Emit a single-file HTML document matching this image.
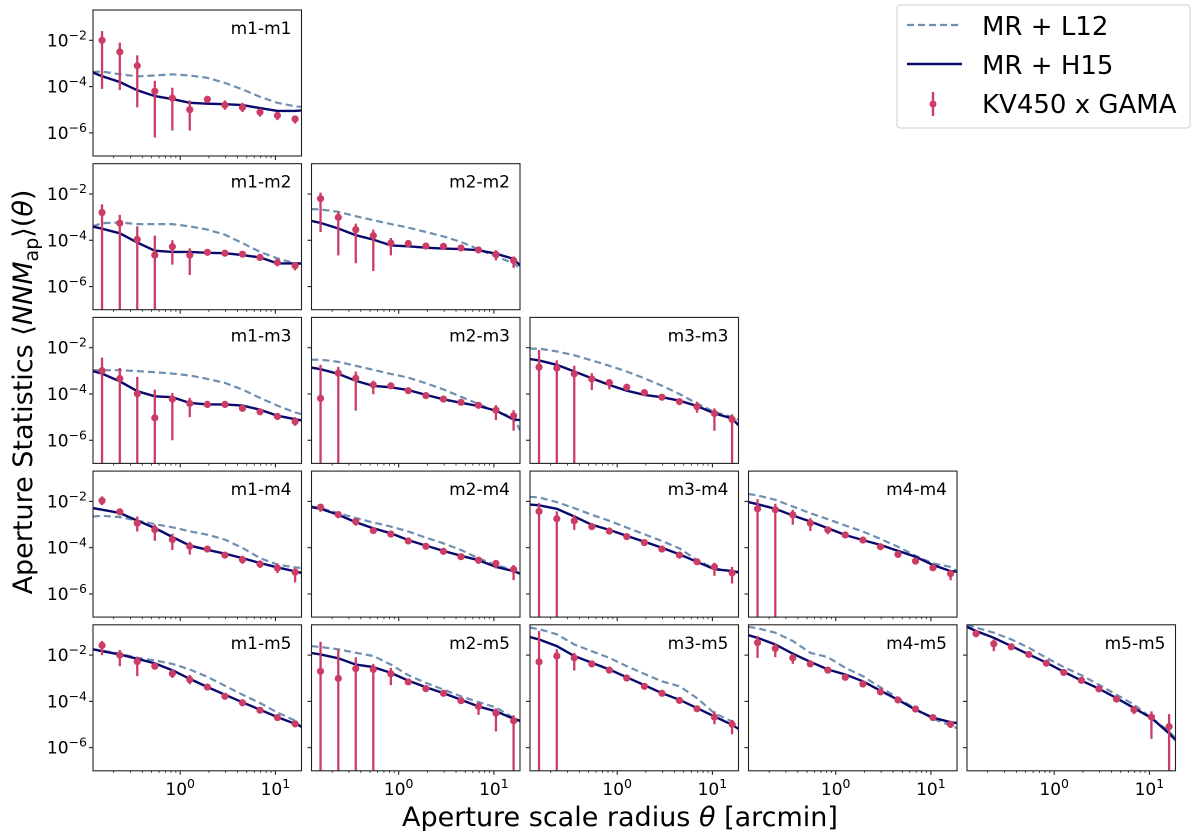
<!DOCTYPE html>
<html><head><meta charset="utf-8"><style>
html,body{margin:0;padding:0;background:#fff;}
svg{display:block;font-family:"DejaVu Sans","Liberation Sans",sans-serif;}
</style></head><body>
<svg id="chart" width="1200" height="831" viewBox="0 0 1200 831" xmlns="http://www.w3.org/2000/svg">
<g id="panels"></g>
<text x="620" y="826" font-size="27" text-anchor="middle" fill="#000">Aperture scale radius <tspan font-style="italic">θ</tspan> [arcmin]</text>
<text transform="translate(32,392) rotate(-90)" font-size="27" text-anchor="middle" fill="#000">Aperture Statistics ⟨<tspan font-style="italic">NNM</tspan><tspan font-size="19" dy="6">ap</tspan><tspan dy="-6">⟩(</tspan><tspan font-style="italic">θ</tspan>)</text>
<g>
<rect x="897" y="5" width="293" height="123" rx="3" fill="#fff" stroke="#ccc" stroke-width="1"/>
<line x1="907" y1="25" x2="960" y2="25" stroke="#6f8fb0" stroke-width="2.2" stroke-dasharray="7,4"/>
<text x="982" y="35" font-size="26">MR + L12</text>
<line x1="907" y1="64" x2="962" y2="64" stroke="#0a0a6e" stroke-width="2.4"/>
<text x="982" y="74" font-size="26">MR + H15</text>
<line x1="933" y1="92" x2="933" y2="116" stroke="#cc3d66" stroke-width="2.4"/>
<circle cx="933" cy="104" r="3.5" fill="#cc3d66"/>
<text x="982" y="113" font-size="26">KV450 x GAMA</text>
</g>
</svg>
<script>
// theta grid (arcmin) for data points and model curve sample points
const thetaPts = [0.151,0.232,0.354,0.541,0.827,1.26,1.93,2.95,4.51,6.89,10.5,16.1];
const thetaModel = [0.121,0.151,0.232,0.354,0.541,0.827,1.26,1.93,2.95,4.51,6.89,10.5,16.1,18.8];
const xTickVals = [1,10];
const xTickLabels = ["0","1"];
const yTickVals = [-2,-4,-6];
const yTickLabels = ["−2","−4","−6"];
const panelNames = ["m1-m1","m1-m2","m1-m3","m1-m4","m1-m5","m2-m2","m2-m3","m2-m4","m2-m5","m3-m3","m3-m4","m3-m5","m4-m4","m4-m5","m5-m5"];
const panelRows = [0,1,2,3,4,1,2,3,4,2,3,4,3,4,4];
const panelCols = [0,0,0,0,0,1,1,1,1,2,2,2,3,3,4];
// log10 values of measurements, error bar tops/bottoms, and models
const pts_m1m1=[-2.0,-2.5,-3.1,-4.2,-4.5,-5.0,-4.55,-4.8,-4.9,-5.1,-5.25,-5.4];
const hi_m1m1=[-1.6,-2.1,-2.65,-3.75,-4.05,-4.6,-4.4,-4.6,-4.7,-4.95,-5.1,-5.25];
const lo_m1m1=[-4.1,-4.15,-4.9,-6.2,-5.9,-5.9,-4.7,-5.0,-5.1,-5.3,-5.45,-5.6];
const h15_m1m1=[-3.39,-3.55,-3.8,-4.16,-4.41,-4.54,-4.7,-4.74,-4.76,-4.8,-4.93,-5.05,-5.05,-5.03];
const l12_m1m1=[-3.37,-3.35,-3.47,-3.56,-3.52,-3.47,-3.52,-3.62,-3.84,-4.12,-4.44,-4.7,-4.85,-4.88];
const pts_m1m2=[-2.8,-3.26,-3.96,-4.64,-4.28,-4.64,-4.52,-4.56,-4.6,-4.74,-4.96,-5.1];
const hi_m1m2=[-2.45,-2.9,-3.4,-3.8,-4.0,-4.35,-4.4,-4.45,-4.5,-4.62,-4.82,-4.95];
const lo_m1m2=[-8,-8,-8,-8,-5.05,-5.5,-4.65,-4.68,-4.72,-4.88,-5.12,-5.3];
const h15_m1m2=[-3.41,-3.5,-3.7,-4.1,-4.45,-4.5,-4.5,-4.54,-4.56,-4.64,-4.74,-5.0,-5.0,-5.0];
const l12_m1m2=[-3.39,-3.26,-3.23,-3.3,-3.3,-3.3,-3.4,-3.54,-3.76,-4.12,-4.5,-4.78,-5.0,-5.02];
const pts_m1m3=[-2.99,-3.33,-3.99,-5.03,-4.22,-4.41,-4.45,-4.45,-4.62,-4.77,-4.97,-5.19];
const hi_m1m3=[-2.43,-2.87,-3.26,-3.81,-3.96,-4.17,-4.32,-4.35,-4.5,-4.65,-4.82,-5.0];
const lo_m1m3=[-8,-8,-8,-8,-6.0,-5.0,-4.6,-4.57,-4.72,-4.9,-5.12,-5.38];
const h15_m1m3=[-3.01,-3.12,-3.45,-3.88,-4.1,-4.14,-4.39,-4.45,-4.45,-4.5,-4.68,-4.94,-5.09,-5.14];
const l12_m1m3=[-2.97,-2.97,-2.97,-3.01,-3.06,-3.12,-3.2,-3.35,-3.52,-3.81,-4.17,-4.5,-4.8,-4.87];
const pts_m1m4=[-1.97,-2.45,-2.94,-3.22,-3.65,-3.94,-4.06,-4.32,-4.52,-4.71,-4.88,-5.06];
const hi_m1m4=[-1.78,-2.3,-2.65,-3.0,-3.4,-3.75,-3.95,-4.2,-4.35,-4.55,-4.68,-4.9];
const lo_m1m4=[-2.16,-2.6,-3.3,-3.7,-4.1,-4.3,-4.17,-4.45,-4.7,-4.88,-5.1,-5.5];
const h15_m1m4=[-2.29,-2.36,-2.5,-2.83,-3.15,-3.54,-3.91,-4.09,-4.26,-4.45,-4.66,-4.85,-5.02,-5.09];
const l12_m1m4=[-2.65,-2.62,-2.68,-2.83,-2.98,-3.12,-3.29,-3.44,-3.65,-4.01,-4.45,-4.73,-4.85,-4.88];
const pts_m1m5=[-1.58,-2.0,-2.28,-2.48,-2.8,-3.06,-3.38,-3.78,-4.06,-4.38,-4.7,-4.97];
const hi_m1m5=[-1.39,-1.78,-2.07,-2.38,-2.62,-2.86,-3.28,-3.68,-3.95,-4.25,-4.58,-4.85];
const lo_m1m5=[-2.0,-2.48,-2.91,-2.58,-2.99,-3.26,-3.48,-3.88,-4.17,-4.5,-4.82,-5.12];
const h15_m1m5=[-1.75,-1.83,-1.97,-2.16,-2.36,-2.65,-3.03,-3.38,-3.71,-4.04,-4.36,-4.68,-4.97,-5.09];
const l12_m1m5=[-1.75,-1.8,-1.94,-2.12,-2.23,-2.38,-2.62,-2.94,-3.32,-3.71,-4.07,-4.48,-4.83,-5.13];
const pts_m2m2=[-2.2,-3.01,-3.54,-3.8,-4.12,-4.14,-4.25,-4.26,-4.33,-4.42,-4.61,-4.87];
const hi_m2m2=[-1.94,-2.77,-3.28,-3.54,-3.9,-4.04,-4.15,-4.16,-4.23,-4.3,-4.43,-4.7];
const lo_m2m2=[-3.64,-4.65,-4.99,-5.33,-4.65,-4.24,-4.35,-4.36,-4.43,-4.55,-4.87,-5.19];
const h15_m2m2=[-3.16,-3.25,-3.49,-3.78,-3.97,-4.22,-4.26,-4.32,-4.36,-4.38,-4.43,-4.58,-4.8,-5.09];
const l12_m2m2=[-2.65,-2.67,-2.77,-2.96,-3.13,-3.3,-3.45,-3.64,-3.83,-4.07,-4.39,-4.7,-4.99,-5.23];
const pts_m2m3=[-4.19,-3.1,-3.32,-3.61,-3.65,-3.86,-4.07,-4.22,-4.36,-4.49,-4.7,-4.94];
const hi_m2m3=[-2.74,-2.83,-3.03,-3.43,-3.55,-3.76,-3.97,-4.12,-4.26,-4.36,-4.48,-4.7];
const lo_m2m3=[-8,-8,-4.72,-4.01,-3.75,-3.96,-4.17,-4.32,-4.46,-4.62,-5.13,-5.59];
const h15_m2m3=[-2.86,-2.93,-3.13,-3.43,-3.65,-3.71,-3.83,-4.04,-4.23,-4.38,-4.52,-4.72,-5.1,-5.13];
const l12_m2m3=[-2.52,-2.52,-2.61,-2.78,-2.96,-3.13,-3.29,-3.54,-3.8,-4.12,-4.43,-4.77,-5.01,-5.57];
const pts_m2m4=[-2.25,-2.57,-2.87,-3.26,-3.41,-3.71,-3.94,-4.16,-4.39,-4.54,-4.68,-4.94];
const hi_m2m4=[-2.1,-2.45,-2.72,-3.16,-3.31,-3.61,-3.84,-4.06,-4.29,-4.4,-4.54,-4.75];
const lo_m2m4=[-2.45,-2.72,-3.05,-3.36,-3.51,-3.81,-4.04,-4.26,-4.49,-4.7,-4.9,-5.4];
const h15_m2m4=[-2.25,-2.32,-2.58,-2.9,-3.16,-3.38,-3.67,-3.91,-4.14,-4.35,-4.54,-4.83,-5.01,-5.12];
const l12_m2m4=[-2.22,-2.29,-2.51,-2.72,-2.91,-3.09,-3.3,-3.57,-3.81,-4.1,-4.46,-4.75,-4.97,-5.07];
const pts_m2m5=[-2.7,-3.01,-2.58,-2.62,-2.81,-3.16,-3.45,-3.65,-3.97,-4.22,-4.51,-4.84];
const hi_m2m5=[-1.42,-1.75,-2.09,-2.38,-2.55,-3.04,-3.33,-3.55,-3.87,-4.05,-4.3,-4.6];
const lo_m2m5=[-8,-8,-8,-8,-3.3,-3.28,-3.57,-3.75,-4.07,-4.58,-5.3,-8];
const h15_m2m5=[-1.91,-1.97,-2.14,-2.41,-2.52,-2.77,-3.1,-3.39,-3.64,-3.93,-4.22,-4.43,-4.75,-4.84];
const l12_m2m5=[-1.61,-1.65,-1.75,-1.9,-2.04,-2.41,-2.87,-3.2,-3.49,-3.78,-4.03,-4.26,-4.72,-4.87];
const pts_m3m3=[-2.84,-2.88,-3.13,-3.35,-3.51,-3.71,-3.94,-4.14,-4.33,-4.55,-4.84,-5.1];
const hi_m3m3=[-2.1,-2.55,-2.78,-3.1,-3.36,-3.6,-3.84,-4.04,-4.23,-4.33,-4.62,-4.88];
const lo_m3m3=[-8,-8,-8,-3.83,-3.8,-3.85,-4.04,-4.24,-4.43,-4.81,-5.59,-8];
const h15_m3m3=[-2.49,-2.55,-2.74,-3.03,-3.32,-3.61,-3.86,-4.04,-4.14,-4.29,-4.52,-4.84,-5.06,-5.35];
const l12_m3m3=[-2.04,-2.04,-2.16,-2.33,-2.55,-2.78,-3.03,-3.32,-3.64,-4.0,-4.41,-4.77,-4.99,-5.13];
const pts_m3m4=[-2.43,-2.75,-2.84,-3.09,-3.28,-3.52,-3.78,-4.06,-4.32,-4.61,-4.83,-5.09];
const hi_m3m4=[-2.07,-2.43,-2.58,-2.97,-3.18,-3.42,-3.68,-3.96,-4.22,-4.5,-4.65,-4.83];
const lo_m3m4=[-8,-8,-3.23,-3.21,-3.38,-3.62,-3.88,-4.16,-4.42,-4.72,-5.22,-5.55];
const h15_m3m4=[-2.14,-2.17,-2.32,-2.65,-3.01,-3.23,-3.49,-3.74,-4.0,-4.29,-4.61,-4.93,-5.01,-5.07];
const l12_m3m4=[-1.8,-1.83,-2.03,-2.29,-2.58,-2.84,-3.13,-3.42,-3.71,-4.03,-4.54,-4.9,-5.01,-5.04];
const pts_m3m5=[-2.29,-2.04,-2.12,-2.38,-2.65,-2.99,-3.35,-3.65,-3.96,-4.32,-4.68,-4.99];
const hi_m3m5=[-0.96,-1.75,-1.9,-2.28,-2.55,-2.89,-3.25,-3.55,-3.86,-4.22,-4.43,-4.8];
const lo_m3m5=[-8,-8,-2.67,-2.48,-2.75,-3.09,-3.45,-3.75,-4.06,-4.42,-4.99,-5.42];
const h15_m3m5=[-1.22,-1.32,-1.61,-2.04,-2.33,-2.62,-2.96,-3.3,-3.64,-3.93,-4.29,-4.65,-5.01,-5.19];
const l12_m3m5=[-0.81,-0.88,-1.1,-1.54,-1.83,-2.12,-2.48,-2.81,-3.13,-3.35,-3.86,-4.51,-4.87,-4.94];
const pts_m4m4=[-2.32,-2.36,-2.58,-2.94,-3.23,-3.45,-3.67,-3.96,-4.29,-4.58,-4.87,-5.12];
const hi_m4m4=[-1.9,-2.1,-2.36,-2.72,-3.1,-3.35,-3.57,-3.86,-4.19,-4.48,-4.75,-4.97];
const lo_m4m4=[-8,-8,-3.01,-3.28,-3.42,-3.55,-3.77,-4.06,-4.39,-4.68,-4.99,-5.41];
const h15_m4m4=[-2.03,-2.12,-2.32,-2.61,-2.87,-3.16,-3.45,-3.67,-3.88,-4.14,-4.39,-4.75,-5.01,-5.04];
const l12_m4m4=[-1.68,-1.74,-1.93,-2.22,-2.51,-2.77,-3.04,-3.3,-3.62,-3.96,-4.35,-4.68,-4.83,-5.01];
const pts_m4m5=[-1.46,-1.71,-2.12,-2.38,-2.65,-2.96,-3.25,-3.59,-3.94,-4.33,-4.7,-4.99];
const hi_m4m5=[-1.17,-1.51,-1.95,-2.28,-2.55,-2.86,-3.15,-3.49,-3.84,-4.23,-4.6,-4.85];
const lo_m4m5=[-2.12,-2.09,-2.38,-2.48,-2.75,-3.06,-3.35,-3.69,-4.04,-4.43,-4.8,-5.15];
const h15_m4m5=[-1.14,-1.25,-1.54,-1.94,-2.29,-2.62,-2.84,-3.13,-3.54,-3.93,-4.36,-4.7,-4.9,-4.94];
const l12_m4m5=[-0.78,-0.84,-1.03,-1.39,-1.9,-2.09,-2.55,-2.91,-3.39,-3.86,-4.32,-4.75,-5.04,-5.16];
const pts_m5m5=[-1.07,-1.51,-1.64,-1.97,-2.35,-2.75,-3.09,-3.46,-3.9,-4.36,-4.68,-5.09];
const hi_m5m5=[-0.93,-1.32,-1.54,-1.87,-2.25,-2.65,-2.99,-3.36,-3.8,-4.2,-4.43,-4.55];
const lo_m5m5=[-1.23,-1.83,-1.74,-2.07,-2.45,-2.85,-3.19,-3.56,-4.0,-4.55,-5.62,-8];
const h15_m5m5=[-0.78,-0.96,-1.25,-1.61,-1.97,-2.33,-2.72,-3.1,-3.45,-3.86,-4.29,-4.72,-5.38,-5.67];
const l12_m5m5=[-0.7,-0.81,-1.03,-1.32,-1.68,-2.12,-2.52,-2.87,-3.28,-3.71,-4.14,-4.72,-5.3,-5.59];

const panelPts=[pts_m1m1,pts_m1m2,pts_m1m3,pts_m1m4,pts_m1m5,pts_m2m2,pts_m2m3,pts_m2m4,pts_m2m5,pts_m3m3,pts_m3m4,pts_m3m5,pts_m4m4,pts_m4m5,pts_m5m5];
const panelHi=[hi_m1m1,hi_m1m2,hi_m1m3,hi_m1m4,hi_m1m5,hi_m2m2,hi_m2m3,hi_m2m4,hi_m2m5,hi_m3m3,hi_m3m4,hi_m3m5,hi_m4m4,hi_m4m5,hi_m5m5];
const panelLo=[lo_m1m1,lo_m1m2,lo_m1m3,lo_m1m4,lo_m1m5,lo_m2m2,lo_m2m3,lo_m2m4,lo_m2m5,lo_m3m3,lo_m3m4,lo_m3m5,lo_m4m4,lo_m4m5,lo_m5m5];
const panelH15=[h15_m1m1,h15_m1m2,h15_m1m3,h15_m1m4,h15_m1m5,h15_m2m2,h15_m2m3,h15_m2m4,h15_m2m5,h15_m3m3,h15_m3m4,h15_m3m5,h15_m4m4,h15_m4m5,h15_m5m5];
const panelL12=[l12_m1m1,l12_m1m2,l12_m1m3,l12_m1m4,l12_m1m5,l12_m2m2,l12_m2m3,l12_m2m4,l12_m2m5,l12_m3m3,l12_m3m4,l12_m3m5,l12_m4m4,l12_m4m5,l12_m5m5];

const NS="http://www.w3.org/2000/svg";
const root=document.getElementById('panels');
const PW=208.5, PH=146, X0=93, Y0=10, DX=218.5, DY=153.7;
const XMIN=-0.916, XMAX=1.274, YMAX=-0.69, YMIN=-7.0;
function mk(tag,attrs,parent){const e=document.createElementNS(NS,tag);for(const k in attrs)e.setAttribute(k,attrs[k]);parent.appendChild(e);return e;}

for(let p=0;p<panelNames.length;p++){
  const r=panelRows[p], c=panelCols[p];
  const L=X0+c*DX, T=Y0+r*DY;
  const xs=t=>L+(Math.log10(t)-XMIN)/(XMAX-XMIN)*PW;
  const ys=v=>T+(YMAX-v)/(YMAX-YMIN)*PH;
  const g=mk('g',{},root);
  
  
  const cid='clip'+p;
  const cp=mk('clipPath',{id:cid},g);
  mk('rect',{x:L,y:T,width:PW,height:PH},cp);
  const plot=mk('g',{'clip-path':'url(#'+cid+')'},g);
  let d='';thetaModel.forEach((t,i)=>{d+=(i?'L':'M')+xs(t).toFixed(1)+','+ys(panelL12[p][i]).toFixed(1);});
  const l12=mk('path',{d:d,fill:'none',stroke:'#6f8fb0','stroke-width':2.2,'stroke-dasharray':'7,4'},plot);
  
  
  d='';thetaModel.forEach((t,i)=>{d+=(i?'L':'M')+xs(t).toFixed(1)+','+ys(panelH15[p][i]).toFixed(1);});
  const h15=mk('path',{d:d,fill:'none',stroke:'#0a0a6e','stroke-width':2.4},plot);
  
  
  thetaPts.forEach((t,i)=>{
    const x=xs(t);
    const eb=mk('line',{x1:x,x2:x,y1:ys(panelHi[p][i]),y2:ys(panelLo[p][i]),stroke:'#cc3d66','stroke-width':2.3},plot);
    
    
    const pt=mk('circle',{cx:x,cy:ys(panelPts[p][i]),r:3.6,fill:'#cc3d66'},plot);
    
    
  });
  const frame=mk('rect',{x:L,y:T,width:PW,height:PH,fill:'none',stroke:'#222','stroke-width':1.1},g);
  
  
  const lab=mk('text',{x:L+PW-10,y:T+24,'font-size':17,'text-anchor':'end',fill:'#000'},g);
  
  
  lab.textContent=panelNames[p];
  for(let e=-1;e<=1;e++){for(let m=1;m<10;m++){
    const t=m*Math.pow(10,e); const lv=Math.log10(t);
    if(lv<XMIN||lv>XMAX) continue;
    const x=xs(t); const len=m===1?4:2.2;
    mk('line',{x1:x,x2:x,y1:T+PH,y2:T+PH+len,stroke:'#222','stroke-width':m===1?1.1:0.8},g);
  }}
  if(r===4){
    xTickVals.forEach((tv,i)=>{
      const tl=mk('text',{x:xs(tv),y:T+PH+24,'font-size':17,'text-anchor':'middle',fill:'#000'},g);
      
      
      tl.innerHTML='10<tspan dy="-7" font-size="12.5">'+xTickLabels[i]+'</tspan>';
    });
  }
  yTickVals.forEach((yv,i)=>{
    const y=ys(yv);
    mk('line',{x1:L-4,x2:L,y1:y,y2:y,stroke:'#222','stroke-width':1.1},g);
    if(c===0){
      const tl=mk('text',{x:L-6,y:y+6,'font-size':17,'text-anchor':'end',fill:'#000'},g);
      
      
      tl.innerHTML='10<tspan dy="-7" font-size="12.5">'+yTickLabels[i]+'</tspan>';
    }
  });
}
</script>
</body></html>
